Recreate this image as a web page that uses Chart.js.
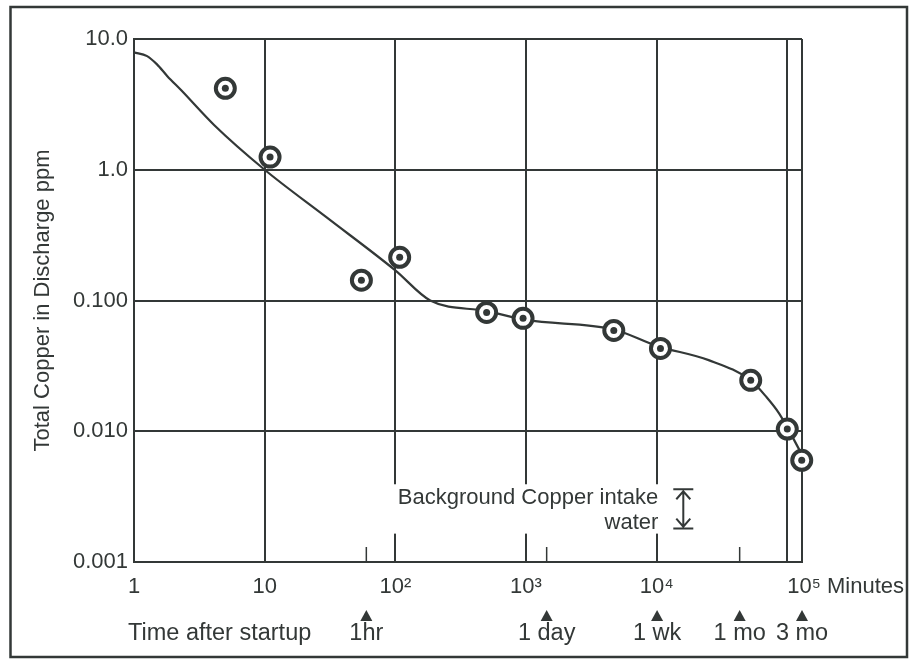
<!DOCTYPE html>
<html>
<head>
<meta charset="utf-8">
<title>Total Copper in Discharge</title>
<script src="https://cdn.jsdelivr.net/npm/chart.js@4.4.1/dist/chart.umd.min.js"></script>
<style>
  html, body { margin: 0; padding: 0; background: #fff; }
  #wrap { width: 913px; height: 660px; position: relative; }
</style>
</head>
<body>
<div id="wrap"><canvas id="c" width="913" height="660"></canvas></div>
<script>
// Time axis (minutes after startup), decade ticks
const timeTicks = [1, 10, 100, 1000, 10000, 100000];
const timeTickLabels = ['1', '10', '10²', '10³', '10⁴', '10⁵'];
const timeUnit = 'Minutes';
const axisEnd = 129600; // 3 months in minutes

// Copper axis (ppm), decade ticks
const copperTicks = [0.001, 0.01, 0.1, 1, 10];
const copperTickLabels = ['0.001', '0.010', '0.100', '1.0', '10.0'];

// Measured samples
const sampleTime = [5, 11, 55, 108, 500, 950, 4700, 10700, 52500, 100000, 129000];
const sampleCopper = [4.2, 1.25, 0.143, 0.214, 0.081, 0.073, 0.059, 0.043, 0.0245, 0.0104, 0.006];

// Fitted trend curve
const trendTime = [1, 1.26, 1.5, 1.8, 2.3, 4.1, 10, 30, 100, 185, 500, 1000, 4700, 10000, 25000, 52500, 69500, 87000, 100000, 129600];
const trendCopper = [7.9, 7.4, 6.4, 5.2, 4.05, 2.2, 1.0, 0.43, 0.17, 0.1, 0.083, 0.071, 0.06, 0.045, 0.035, 0.0245, 0.0182, 0.0136, 0.0107, 0.0066];

// Elapsed-time milestones under the axis
const milestoneTime = [60, 1440, 10080, 43200, 129600];
const milestoneLabels = ['1hr', '1 day', '1 wk', '1 mo', '3 mo'];
const milestoneCaption = 'Time after startup';

// Background copper level of the intake water
const backgroundRange = [0.0018, 0.0036];
const backgroundTime = 16000;
const backgroundText = ['Background Copper intake', 'water'];

const INK = '#333837';
const FONT = '"Liberation Sans", Arial, Helvetica, sans-serif';

const toPoints = (xs, ys) => xs.map((v, i) => ({ x: v, y: ys[i] }));

const decorations = {
  id: 'decorations',
  beforeDraw(chart) {
    const ctx = chart.ctx;
    ctx.save();
    ctx.fillStyle = '#fff';
    ctx.fillRect(0, 0, chart.width, chart.height);
    ctx.restore();
  },
  afterDraw(chart) {
    const { ctx, scales: { x, y } } = chart;
    ctx.save();

    // outer frame
    ctx.strokeStyle = INK;
    ctx.lineWidth = 2.5;
    ctx.strokeRect(10.5, 7, 896.5, 650);

    // last decade label with unit, set left-aligned on its gridline
    ctx.fillStyle = INK;
    ctx.font = '22px ' + FONT;
    ctx.textAlign = 'left';
    ctx.textBaseline = 'middle';
    ctx.fillText(timeTickLabels[5] + ' ' + timeUnit, x.getPixelForValue(timeTicks[5]), x.top + 25);

    // milestone ticks, markers and labels
    const gridPx = timeTicks.concat([axisEnd]).map(v => x.getPixelForValue(v));
    ctx.lineWidth = 1.5;
    milestoneTime.forEach((t, i) => {
      const px = x.getPixelForValue(t);
      if (!gridPx.some(g => Math.abs(g - px) < 6)) {
        ctx.beginPath();
        ctx.moveTo(px, y.bottom);
        ctx.lineTo(px, y.bottom - 15);
        ctx.stroke();
      }
      ctx.beginPath();
      ctx.moveTo(px, 610);
      ctx.lineTo(px + 6, 621);
      ctx.lineTo(px - 6, 621);
      ctx.closePath();
      ctx.fill();
      ctx.font = '23.5px ' + FONT;
      ctx.textAlign = 'center';
      ctx.textBaseline = 'alphabetic';
      ctx.fillText(milestoneLabels[i], px, 640);
    });
    ctx.font = '23.5px ' + FONT;
    ctx.textAlign = 'left';
    ctx.fillText(milestoneCaption, 128, 640);

    // background copper range
    const bx = x.getPixelForValue(backgroundTime);
    const yHi = y.getPixelForValue(backgroundRange[1]);
    const yLo = y.getPixelForValue(backgroundRange[0]);
    ctx.font = '22px ' + FONT;
    const right = bx - 25;
    const w = ctx.measureText(backgroundText[0]).width;
    ctx.fillStyle = '#fff';
    ctx.fillRect(right - w - 4, yHi - 5, w + 9, (yLo - yHi) + 10);
    ctx.fillStyle = INK;
    ctx.textAlign = 'right';
    ctx.textBaseline = 'alphabetic';
    ctx.fillText(backgroundText[0], right, yHi + 15);
    ctx.fillText(backgroundText[1], right, yLo);

    ctx.strokeStyle = INK;
    ctx.lineWidth = 2;
    ctx.beginPath();
    ctx.moveTo(bx - 10, yHi); ctx.lineTo(bx + 10, yHi);
    ctx.moveTo(bx - 10, yLo); ctx.lineTo(bx + 10, yLo);
    ctx.moveTo(bx, yHi + 2); ctx.lineTo(bx, yLo - 2);
    ctx.moveTo(bx - 7, yHi + 10); ctx.lineTo(bx, yHi + 2); ctx.lineTo(bx + 7, yHi + 10);
    ctx.moveTo(bx - 7, yLo - 10); ctx.lineTo(bx, yLo - 2); ctx.lineTo(bx + 7, yLo - 10);
    ctx.stroke();

    ctx.restore();
  }
};

new Chart(document.getElementById('c'), {
  type: 'scatter',
  data: {
    datasets: [
      {
        label: 'dots',
        data: toPoints(sampleTime, sampleCopper),
        pointRadius: 3.5,
        pointBorderWidth: 0,
        pointBackgroundColor: INK,
        order: 0,
        clip: false
      },
      {
        label: 'samples',
        data: toPoints(sampleTime, sampleCopper),
        pointRadius: 9.5,
        pointBorderWidth: 4,
        pointBackgroundColor: '#fff',
        pointBorderColor: INK,
        order: 1,
        clip: false
      },
      {
        label: 'trend',
        data: toPoints(trendTime, trendCopper),
        showLine: true,
        borderColor: INK,
        borderWidth: 2.2,
        pointRadius: 0,
        cubicInterpolationMode: 'monotone',
        order: 2,
        clip: false
      }
    ]
  },
  options: {
    responsive: false,
    maintainAspectRatio: false,
    devicePixelRatio: 1,
    animation: false,
    events: [],
    layout: { padding: { top: 39, right: 111, bottom: 0, left: 0 } },
    plugins: { legend: { display: false }, tooltip: { enabled: false } },
    scales: {
      x: {
        type: 'logarithmic',
        position: 'bottom',
        min: 1,
        max: axisEnd,
        afterBuildTicks(s) { s.ticks = timeTicks.concat([axisEnd]).map(v => ({ value: v })); },
        afterFit(s) { s.height = 98; },
        ticks: {
          autoSkip: false,
          maxRotation: 0,
          padding: 12,
          color: INK,
          font: { family: FONT, size: 22 },
          callback(v) {
            const i = timeTicks.indexOf(v);
            return (i < 0 || i === timeTicks.length - 1) ? '' : timeTickLabels[i];
          }
        },
        grid: { color: INK, lineWidth: 2, drawTicks: false },
        border: { color: INK, width: 2 }
      },
      y: {
        type: 'logarithmic',
        position: 'left',
        min: copperTicks[0],
        max: copperTicks[copperTicks.length - 1],
        afterBuildTicks(s) { s.ticks = copperTicks.map(v => ({ value: v })); },
        afterFit(s) { s.width = 134; },
        ticks: {
          autoSkip: false,
          padding: 6,
          color: INK,
          font: { family: FONT, size: 22 },
          callback(v) {
            const i = copperTicks.indexOf(v);
            return i < 0 ? '' : copperTickLabels[i];
          }
        },
        title: {
          display: true,
          text: 'Total Copper in Discharge ppm',
          color: INK,
          font: { family: FONT, size: 22 },
          padding: { top: 30, bottom: 0 }
        },
        grid: { color: INK, lineWidth: 2, drawTicks: false },
        border: { color: INK, width: 2 }
      }
    }
  },
  plugins: [decorations]
});
</script>
</body>
</html>
